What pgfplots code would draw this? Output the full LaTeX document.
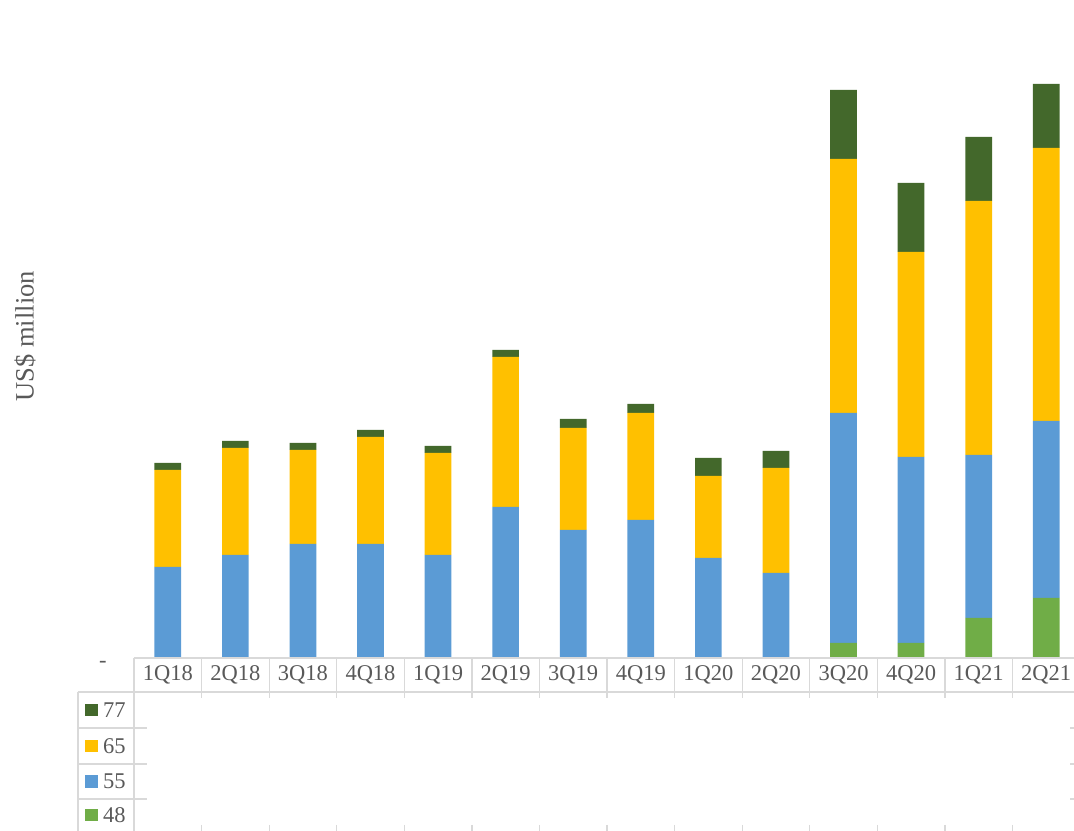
\documentclass[border=0pt]{standalone}
\usepackage{fontspec}
\setmainfont{Liberation Serif}
\usepackage{pgfplots}
\pgfplotsset{compat=1.18}
\usepackage{pgfplotstable}
\definecolor{cA}{HTML}{70AD47}
\definecolor{cB}{HTML}{5B9BD5}
\definecolor{cC}{HTML}{FFC000}
\definecolor{cD}{HTML}{43682B}
\definecolor{txt}{HTML}{595959}
\definecolor{grid}{HTML}{D9D9D9}
\pgfplotstableread{
x s48 s55 s65 s77
0  0   91  97  7
1  0   103 107 7
2  0   114 94  7
3  0   114 107 7
4  0   103 102 7
5  0   151 150 7
6  0   128 102 9
7  0   138 107 9
8  0   100 82  18
9  0   85  105 17
10 15  230 254 69
11 15  186 205 69
12 40  163 254 64
13 60  177 273 64
}\data
\begin{document}
\begin{tikzpicture}[x=1bp,y=1bp]
\path[use as bounding box] (-134,-173) rectangle (940,658);
\begin{axis}[
  at={(0,0)}, anchor=south west,
  scale only axis, width=946bp, height=658bp,
  xmin=-0.5, xmax=13.5, ymin=0, ymax=658,
  ybar stacked, bar width=26.7bp,
  axis line style={draw=none},
  xtick=data,
  xticklabels={1Q18,2Q18,3Q18,4Q18,1Q19,2Q19,3Q19,4Q19,1Q20,2Q20,3Q20,4Q20,1Q21,2Q21},
  xtick style={draw=none}, ytick style={draw=none},
  xticklabel style={anchor=center, yshift=-17bp, text=txt, font=\fontsize{22.5bp}{27bp}\selectfont},
  ytick={0}, yticklabels={-},
  yticklabel style={anchor=center, xshift=-31bp, yshift=-6bp, text=txt, font=\fontsize{22.5bp}{27bp}\selectfont},
  ylabel={US\$ million},
  ylabel style={at={(axis description cs:-0.1152,0.489)}, anchor=center, text=txt, font=\fontsize{26.5bp}{30bp}\selectfont},
  clip=false,
]
\addplot[fill=cA, draw=none] table[x=x,y=s48] {\data};
\addplot[fill=cB, draw=none] table[x=x,y=s55] {\data};
\addplot[fill=cC, draw=none] table[x=x,y=s65] {\data};
\addplot[fill=cD, draw=none] table[x=x,y=s77] {\data};
\end{axis}
\begin{scope}[grid, line width=1.3bp]
  \draw (0,0) -- (946,0);
  \draw (-56,-34) -- (946,-34);
  \draw (0,0) -- (0,-173);
  \foreach \k in {1,...,13} {
    \draw ({67.58*\k},0) -- ({67.58*\k},-40);
    \draw ({67.58*\k},-167) -- ({67.58*\k},-173);
  }
  \draw (-56,-34) -- (-56,-173);
  \foreach \yy in {-70,-106,-141} {
    \draw (-56,\yy) -- (13,\yy);
    \draw (936,\yy) -- (946,\yy);
  }
\end{scope}
\begin{scope}[every node/.style={anchor=west, text=txt, font=\fontsize{22.5bp}{27bp}\selectfont, inner sep=0pt}]
  \fill[cD] (-49,-58.3) rectangle ++(12.7,12.7);
  \node at (-31,-52) {77};
  \fill[cC] (-49,-94.3) rectangle ++(12.7,12.7);
  \node at (-31,-88) {65};
  \fill[cB] (-49,-129.8) rectangle ++(12.7,12.7);
  \node at (-31,-123.5) {55};
  \fill[cA] (-49,-163.3) rectangle ++(12.7,12.7);
  \node at (-31,-157) {48};
\end{scope}
\end{tikzpicture}
\end{document}
